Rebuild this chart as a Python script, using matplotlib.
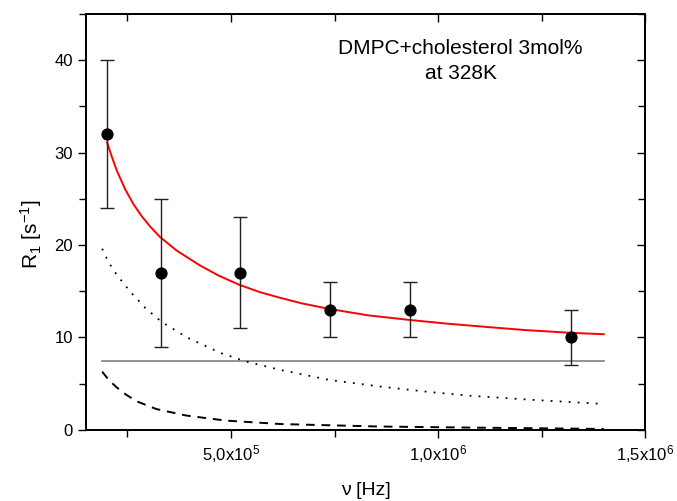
import matplotlib
matplotlib.use('Agg')
import matplotlib.pyplot as plt
import numpy as np
from matplotlib.ticker import MultipleLocator, FixedLocator, FixedFormatter

plt.rcParams['font.family'] = ['Liberation Sans', 'DejaVu Sans']
plt.rcParams['mathtext.default'] = 'regular'

# measured points
freq = [2.01e5, 3.31e5, 5.22e5, 7.39e5, 9.32e5, 1.321e6]
r1 = [32, 17, 17, 13, 13, 10]
r1_err = [8, 8, 6, 3, 3, 3]

# fit (red)
fit_x = [2.01e5, 2.12e5, 2.25e5, 2.45e5, 2.65e5, 2.85e5, 3.05e5, 3.28e5,
         3.69e5, 4.25e5, 4.7e5, 5.2e5, 5.7e5, 6.18e5, 6.7e5, 7.36e5,
         8.3e5, 9.3e5, 1.02e6, 1.1e6, 1.21e6, 1.32e6, 1.4e6]
fit_y = [31.1, 29.6, 28.0, 26.0, 24.4, 23.1, 22.0, 20.9,
         19.4, 17.8, 16.7, 15.7, 14.9, 14.3, 13.7, 13.1,
         12.4, 11.9, 11.5, 11.2, 10.8, 10.5, 10.35]

# dotted contribution
dot_x = [1.89e5, 2.05e5, 2.24e5, 2.56e5, 2.93e5, 3.32e5, 3.94e5, 4.76e5,
         5.36e5, 6.18e5, 7.38e5, 8.58e5, 9.78e5, 1.075e6, 1.227e6, 1.4e6]
dot_y = [19.6, 18.1, 16.8, 15.0, 13.2, 11.7, 10.0, 8.3,
         7.4, 6.5, 5.4, 4.7, 4.1, 3.7, 3.25, 2.8]

# dashed contribution
dash_x = [1.89e5, 2.05e5, 2.24e5, 2.47e5, 2.72e5, 3.2e5, 3.92e5, 4.88e5,
          6.2e5, 8.58e5, 1.09e6, 1.4e6]
dash_y = [6.3, 5.4, 4.6, 3.8, 3.1, 2.25, 1.55, 1.0, 0.63, 0.36, 0.24, 0.1]

# constant contribution
const_x = [1.89e5, 1.4e6]
const_y = [7.5, 7.5]

xtick_pos = [5e5, 1e6, 1.5e6]
xtick_lab = [r'5,0x10$^5$', r'1,0x10$^6$', r'1,5x10$^6$']

fig = plt.figure(figsize=(6.77, 5.01), dpi=100)
ax = fig.add_axes([0.127, 0.142, 0.826, 0.830])

ax.plot(const_x, const_y, color='#808080', lw=1.2)
ax.plot(dot_x, dot_y, color='black', lw=1.3, linestyle=(0, (1, 4)))
ax.plot(dash_x, dash_y, color='black', lw=1.4, linestyle=(0, (4.5, 3.5)))
ax.plot(fit_x, fit_y, color='red', lw=1.4)
ax.errorbar(freq, r1, yerr=r1_err, fmt='o', color='black', ms=7.8,
            ecolor='#222222', elinewidth=1.0, capsize=5, capthick=1.0)

ax.set_xlim(1.5e5, 1.5e6)
ax.set_ylim(0, 45)

ax.xaxis.set_major_locator(FixedLocator(xtick_pos))
ax.xaxis.set_major_formatter(FixedFormatter(xtick_lab))
ax.xaxis.set_minor_locator(MultipleLocator(2.5e5))
ax.yaxis.set_major_locator(MultipleLocator(10))
ax.yaxis.set_minor_locator(MultipleLocator(5))

ax.tick_params(axis='both', which='both', direction='out', labelsize=12,
               top=False, right=False, width=1.0)
ax.tick_params(which='major', length=6)
ax.tick_params(which='minor', length=5)

# inward mirror ticks on top/right
ax2 = ax.twinx()
ax2.set_ylim(ax.get_ylim())
ax2.yaxis.set_major_locator(MultipleLocator(10))
ax2.yaxis.set_minor_locator(MultipleLocator(5))
ax2.tick_params(axis='y', which='both', direction='in', labelright=False, width=1.0)
ax2.tick_params(which='major', length=6)
ax2.tick_params(which='minor', length=5)
ax3 = ax.twiny()
ax3.set_xlim(ax.get_xlim())
ax3.xaxis.set_major_locator(FixedLocator(xtick_pos))
ax3.xaxis.set_minor_locator(MultipleLocator(2.5e5))
ax3.tick_params(axis='x', which='both', direction='in', labeltop=False, width=1.0)
ax3.tick_params(which='major', length=6)
ax3.tick_params(which='minor', length=5)

for a in (ax, ax2, ax3):
    for s in a.spines.values():
        s.set_linewidth(1.1)

ax.set_xlabel('ν [Hz]', fontsize=14, labelpad=12)
ax.set_ylabel(r'R$_1$ [s$^{-1}$]', fontsize=15)
ax.yaxis.set_label_coords(-0.075, 0.47)

ax.text(0.67, 0.887, 'DMPC+cholesterol 3mol%\nat 328K', transform=ax.transAxes,
        ha='center', va='center', fontsize=15, linespacing=1.35)

fig.savefig('out.png', dpi=100)
